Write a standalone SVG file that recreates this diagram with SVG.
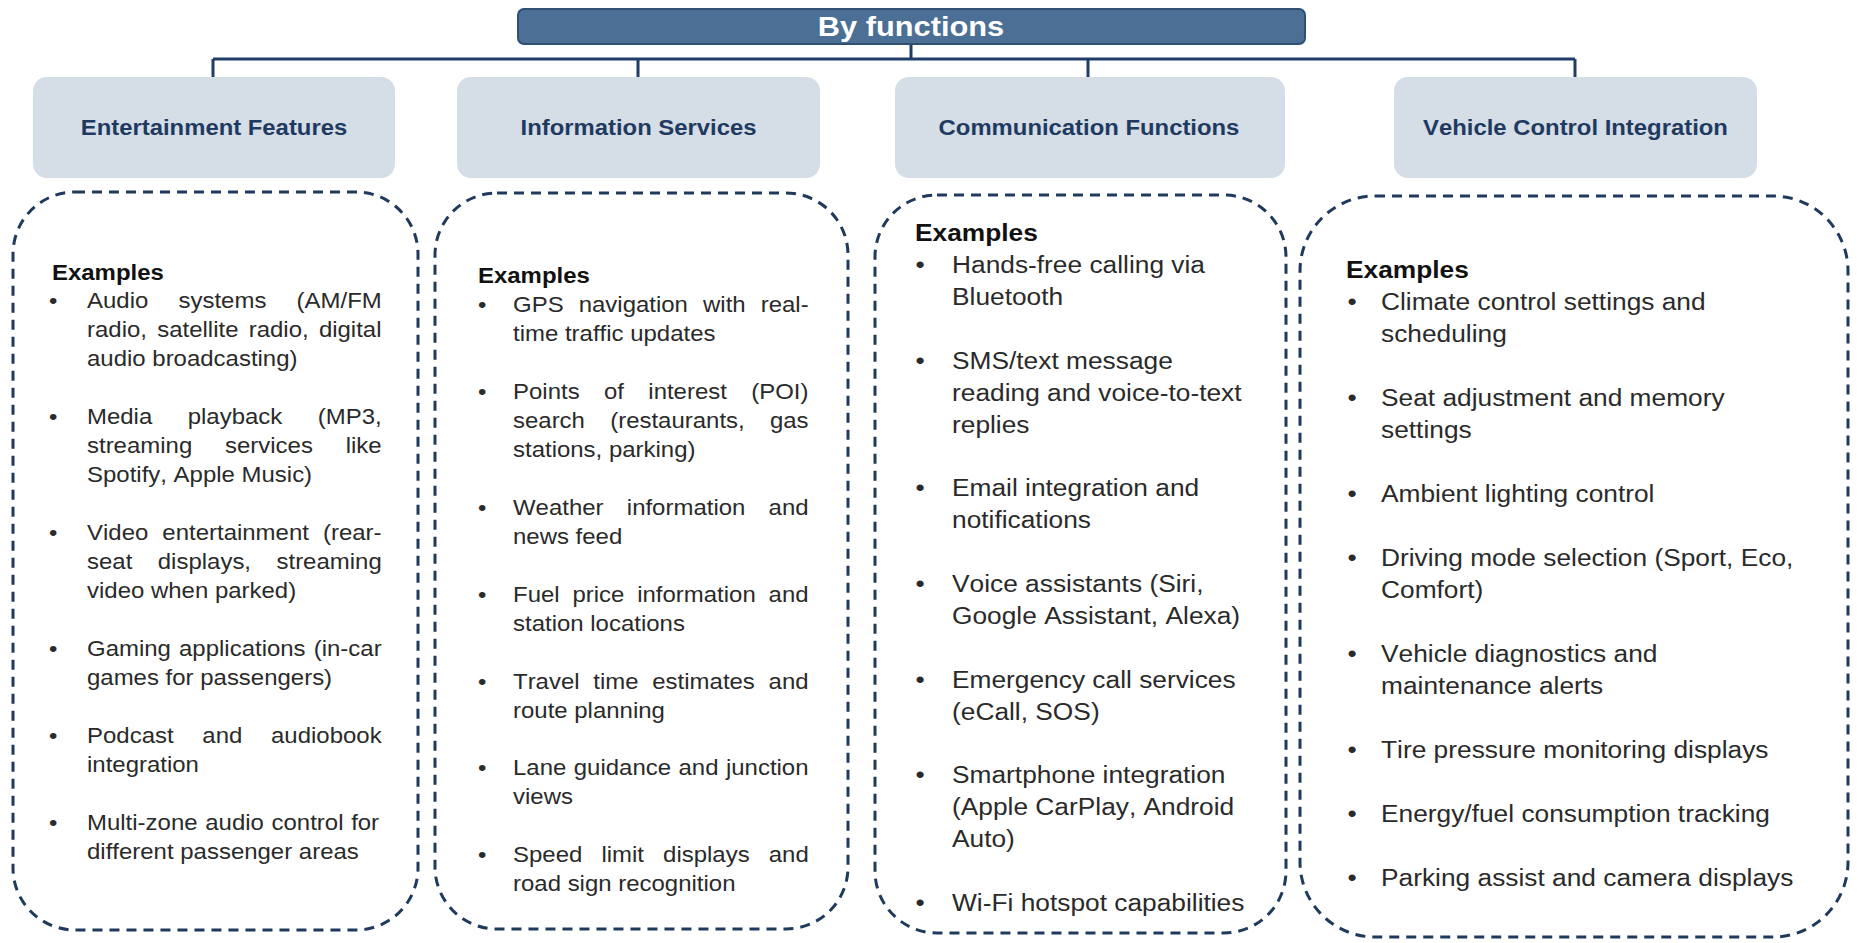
<svg xmlns="http://www.w3.org/2000/svg" width="1860" height="943" viewBox="0 0 1860 943">
<style>
text{font-family:"Liberation Sans",Arial,Helvetica,sans-serif;font-kerning:none}
.title{font-size:27.5px;font-weight:bold;fill:#ffffff;text-anchor:middle}
.hdr{fill:#d5dde6}
.hdrt{font-size:21.3px;font-weight:bold;fill:#1f3a60;text-anchor:middle}
.dash{fill:none;stroke:#1f3a5c;stroke-width:3;stroke-dasharray:10 7}
.s{font-size:21.4px;fill:#2a2a2a}
.l{font-size:23.5px;fill:#2a2a2a}
.ex{font-weight:bold;fill:#111111}
.conn{stroke:#1f3d66;stroke-width:3;fill:none}
</style>
<rect width="1860" height="943" fill="#ffffff"/>
<g id="connectors">
<path class="conn" d="M911 44V59M213 59H1575M213 59V77M638 59V77M1088 59V77M1575 59V77"/>
</g>
<g id="title">
<rect x="518" y="9" width="787" height="35" rx="6" fill="#4b6f95" stroke="#2f4f73" stroke-width="2"/>
<text class="title" transform="translate(911,0) scale(1.12,1)" x="0" y="36.5">By functions</text>
</g>
<g id="entertainment">
<rect class="hdr" x="33" y="77" width="362" height="101" rx="14"/>
<text class="hdrt" transform="translate(214,0) scale(1.12,1)" x="0" y="135.5">Entertainment Features</text>
<rect class="dash" x="13" y="192" width="405" height="738" rx="62"/>
<g transform="translate(87,0) scale(1.12,1)">
<text class="s ex" x="-31.3" y="280">Examples</text>
<text class="s" x="-34" y="308">•</text>
<text class="s" x="0" y="308" word-spacing="21">Audio systems (AM/FM</text>
<text class="s" x="0" y="337" word-spacing="3.2">radio, satellite radio, digital</text>
<text class="s" x="0" y="366">audio broadcasting)</text>
<text class="s" x="-34" y="424">•</text>
<text class="s" x="0" y="424" word-spacing="25.7">Media playback (MP3,</text>
<text class="s" x="0" y="453" word-spacing="23.3">streaming services like</text>
<text class="s" x="0" y="482">Spotify, Apple Music)</text>
<text class="s" x="-34" y="540">•</text>
<text class="s" x="0" y="540" word-spacing="6.6">Video entertainment (rear-</text>
<text class="s" x="0" y="569" word-spacing="16.8">seat displays, streaming</text>
<text class="s" x="0" y="598">video when parked)</text>
<text class="s" x="-34" y="656">•</text>
<text class="s" x="0" y="656" word-spacing="1.3">Gaming applications (in-car</text>
<text class="s" x="0" y="685">games for passengers)</text>
<text class="s" x="-34" y="743">•</text>
<text class="s" x="0" y="743" word-spacing="19.7">Podcast and audiobook</text>
<text class="s" x="0" y="772">integration</text>
<text class="s" x="-34" y="830">•</text>
<text class="s" x="0" y="830" word-spacing="0.9">Multi-zone audio control for</text>
<text class="s" x="0" y="859">different passenger areas</text>
</g>
</g>
<g id="information">
<rect class="hdr" x="457" y="77" width="363" height="101" rx="14"/>
<text class="hdrt" transform="translate(638.5,0) scale(1.12,1)" x="0" y="135.5">Information Services</text>
<rect class="dash" x="435" y="193" width="413" height="736" rx="62"/>
<g transform="translate(513,0) scale(1.12,1)">
<text class="s ex" x="-31.3" y="283">Examples</text>
<text class="s" x="-31.3" y="312">•</text>
<text class="s" x="0" y="312" word-spacing="7.5">GPS navigation with real-</text>
<text class="s" x="0" y="341">time traffic updates</text>
<text class="s" x="-31.3" y="399">•</text>
<text class="s" x="0" y="399" word-spacing="15.8">Points of interest (POI)</text>
<text class="s" x="0" y="428" word-spacing="16.6">search (restaurants, gas</text>
<text class="s" x="0" y="457">stations, parking)</text>
<text class="s" x="-31.3" y="515">•</text>
<text class="s" x="0" y="515" word-spacing="14.8">Weather information and</text>
<text class="s" x="0" y="544">news feed</text>
<text class="s" x="-31.3" y="602">•</text>
<text class="s" x="0" y="602" word-spacing="5.5">Fuel price information and</text>
<text class="s" x="0" y="631">station locations</text>
<text class="s" x="-31.3" y="689">•</text>
<text class="s" x="0" y="689" word-spacing="6.3">Travel time estimates and</text>
<text class="s" x="0" y="718">route planning</text>
<text class="s" x="-31.3" y="775">•</text>
<text class="s" x="0" y="775" word-spacing="0.7">Lane guidance and junction</text>
<text class="s" x="0" y="804">views</text>
<text class="s" x="-31.3" y="862">•</text>
<text class="s" x="0" y="862" word-spacing="11.1">Speed limit displays and</text>
<text class="s" x="0" y="891">road sign recognition</text>
</g>
</g>
<g id="communication">
<rect class="hdr" x="895" y="77" width="390" height="101" rx="14"/>
<text class="hdrt" transform="translate(1089,0) scale(1.12,1)" x="0" y="135.5">Communication Functions</text>
<rect class="dash" x="875" y="195" width="411" height="738" rx="62"/>
<g transform="translate(952,0) scale(1.12,1)">
<text class="l ex" x="-33" y="241">Examples</text>
<text class="l" x="-32.7" y="273">•</text>
<text class="l" x="0" y="273">Hands-free calling via</text>
<text class="l" x="0" y="305">Bluetooth</text>
<text class="l" x="-32.7" y="369">•</text>
<text class="l" x="0" y="369">SMS/text message</text>
<text class="l" x="0" y="401">reading and voice-to-text</text>
<text class="l" x="0" y="433">replies</text>
<text class="l" x="-32.7" y="496">•</text>
<text class="l" x="0" y="496">Email integration and</text>
<text class="l" x="0" y="528">notifications</text>
<text class="l" x="-32.7" y="592">•</text>
<text class="l" x="0" y="592">Voice assistants (Siri,</text>
<text class="l" x="0" y="624">Google Assistant, Alexa)</text>
<text class="l" x="-32.7" y="688">•</text>
<text class="l" x="0" y="688">Emergency call services</text>
<text class="l" x="0" y="720">(eCall, SOS)</text>
<text class="l" x="-32.7" y="783">•</text>
<text class="l" x="0" y="783">Smartphone integration</text>
<text class="l" x="0" y="815">(Apple CarPlay, Android</text>
<text class="l" x="0" y="847">Auto)</text>
<text class="l" x="-32.7" y="911">•</text>
<text class="l" x="0" y="911">Wi-Fi hotspot capabilities</text>
</g>
</g>
<g id="vehicle-control">
<rect class="hdr" x="1394" y="77" width="363" height="101" rx="14"/>
<text class="hdrt" transform="translate(1575.5,0) scale(1.12,1)" x="0" y="135.5">Vehicle Control Integration</text>
<rect class="dash" x="1300" y="196" width="548" height="741" rx="75"/>
<g transform="translate(1381,0) scale(1.12,1)">
<text class="l ex" x="-31.3" y="278">Examples</text>
<text class="l" x="-30" y="310">•</text>
<text class="l" x="0" y="310">Climate control settings and</text>
<text class="l" x="0" y="342">scheduling</text>
<text class="l" x="-30" y="406">•</text>
<text class="l" x="0" y="406">Seat adjustment and memory</text>
<text class="l" x="0" y="438">settings</text>
<text class="l" x="-30" y="502">•</text>
<text class="l" x="0" y="502">Ambient lighting control</text>
<text class="l" x="-30" y="566">•</text>
<text class="l" x="0" y="566">Driving mode selection (Sport, Eco,</text>
<text class="l" x="0" y="598">Comfort)</text>
<text class="l" x="-30" y="662">•</text>
<text class="l" x="0" y="662">Vehicle diagnostics and</text>
<text class="l" x="0" y="694">maintenance alerts</text>
<text class="l" x="-30" y="758">•</text>
<text class="l" x="0" y="758">Tire pressure monitoring displays</text>
<text class="l" x="-30" y="822">•</text>
<text class="l" x="0" y="822">Energy/fuel consumption tracking</text>
<text class="l" x="-30" y="886">•</text>
<text class="l" x="0" y="886">Parking assist and camera displays</text>
</g>
</g>
</svg>
